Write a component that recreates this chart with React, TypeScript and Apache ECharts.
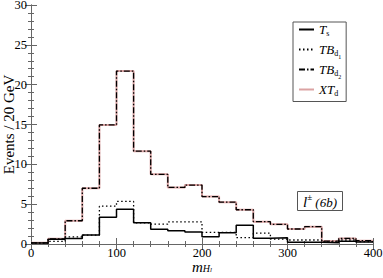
import React, { useEffect, useRef } from 'react';
import * as echarts from 'echarts';

// Bin edges (GeV) for m_{H_l}
const binEdges = [0, 20, 40, 60, 80, 100, 120, 140, 160, 180, 200, 220, 240, 260, 280, 300, 320, 340, 360, 380, 400];

// Events per 20 GeV bin
const tsValues = [0.13, 0.6, 0.7, 1.12, 3.35, 4.37, 2.67, 1.85, 1.65, 1.5, 0.9, 1.4, 2.34, 0.72, 0.78, 0.22, 0.22, 0.15, 0.35, 0.25];
const tbd1Values = [0.1, 0.32, 0.9, 1.12, 4.75, 5.35, 2.67, 2.5, 2.78, 2.78, 1.46, 1.46, 0.8, 1.36, 0.6, 0.5, 0.5, 0.25, 0.5, 0.3];
const tbd2Values = [0.15, 0.65, 2.92, 7.0, 14.95, 21.7, 11.65, 8.74, 7.1, 7.4, 5.95, 5.25, 4.3, 2.8, 2.47, 1.88, 2.17, 0.37, 0.7, 0.42];
const xtdValues = [0.15, 0.65, 2.92, 7.0, 14.95, 21.7, 11.65, 8.74, 7.1, 7.4, 5.95, 5.25, 4.3, 2.8, 2.47, 1.88, 2.17, 0.37, 0.7, 0.42];

const xTicks = [0, 100, 200, 300, 400];
const yTicks = [0, 5, 10, 15, 20, 25, 30];

const SERIF = '"Liberation Serif", "DejaVu Serif", serif';
const FRAME = '#666';

function histPoints(vals: number[]) {
  return binEdges.map((e, i) => [e, vals[Math.min(i, vals.length - 1)]]);
}

const richStyles = {
  i: { fontFamily: SERIF, fontStyle: 'italic', fontWeight: 'normal', fontSize: 13, lineHeight: 20, color: '#000' },
  s: { fontFamily: SERIF, fontWeight: 'normal', fontSize: 8, lineHeight: 8, padding: [0, 0, 2, 0], verticalAlign: 'bottom', color: '#000' },
  ss: { fontFamily: SERIF, fontWeight: 'normal', fontSize: 6, lineHeight: 6, verticalAlign: 'bottom', color: '#000' },
};

export default function App() {
  const ref = useRef<HTMLDivElement>(null);
  useEffect(() => {
    document.body.style.margin = '0';
    if (!ref.current) return;
    const chart = echarts.init(ref.current, null, { renderer: 'svg' });
    const axisCommon = {
      min: 0,
      splitLine: { show: false },
      nameMoveOverlap: false,
      axisLine: { show: true, lineStyle: { color: FRAME, width: 1 } },
      axisTick: { show: true, inside: true, length: 6, lineStyle: { color: FRAME } },
      minorTick: { show: true, splitNumber: 5, length: 3, lineStyle: { color: FRAME } },
    };
    const legendNames: Record<string, string> = {
      'T_s': '{i|T}{s|s}',
      'TB_d1': '{i|TB}{s|d}{ss|1}',
      'TB_d2': '{i|TB}{s|d}{ss|2}',
      'XT_d': '{i|XT}{s|d}',
    };
    chart.setOption({
      animation: false,
      grid: { left: 31, right: 10, top: 5, bottom: 34, containLabel: false, outerBoundsMode: 'none' },
      xAxis: [
        {
          ...axisCommon,
          type: 'value',
          max: xTicks[xTicks.length - 1],
          interval: 100,
          position: 'bottom',
          axisLabel: { fontFamily: SERIF, fontSize: 12.5, color: '#000', margin: 2 },
          name: '{m|m}{h|H}{l|l}',
          nameLocation: 'middle',
          nameGap: 15,
          nameTextStyle: {
            rich: {
              m: { fontFamily: SERIF, fontStyle: 'italic', fontSize: 15, lineHeight: 14, verticalAlign: 'top', color: '#000' },
              h: { fontFamily: SERIF, fontStyle: 'italic', fontSize: 10, lineHeight: 10, verticalAlign: 'bottom', color: '#000' },
              l: { fontFamily: SERIF, fontStyle: 'italic', fontSize: 7, lineHeight: 7, padding: [10, 0, 0, 0], verticalAlign: 'bottom', color: '#000' },
            },
          },
        },
        {
          ...axisCommon,
          type: 'value',
          max: xTicks[xTicks.length - 1],
          interval: 100,
          position: 'top',
          axisLabel: { show: false },
        },
      ],
      yAxis: [
        {
          ...axisCommon,
          type: 'value',
          max: yTicks[yTicks.length - 1],
          interval: 5,
          position: 'left',
          axisLabel: { fontFamily: SERIF, fontSize: 12.5, color: '#000', margin: 4 },
          name: 'Events / 20 GeV',
          nameLocation: 'middle',
          nameGap: 15,
          nameTextStyle: { fontFamily: SERIF, fontSize: 15, color: '#000' },
        },
        {
          ...axisCommon,
          type: 'value',
          max: yTicks[yTicks.length - 1],
          interval: 5,
          position: 'right',
          axisLabel: { show: false },
        },
      ],
      legend: {
        orient: 'vertical',
        left: 293,
        top: 22,
        padding: [1, 5, 2, 5],
        itemWidth: 15,
        itemHeight: 14,
        itemGap: 3.5,
        borderColor: '#555',
        borderWidth: 1,
        itemStyle: { opacity: 0 },
        data: ['T_s', 'TB_d1', 'TB_d2', 'XT_d'],
        formatter: (name: string) => legendNames[name],
        textStyle: { rich: richStyles },
      },
      title: {
        text: '{l|l}{pm|±}{r| (6b)}',
        left: 297,
        top: 191,
        padding: [1, 6, 1, 6],
        borderColor: '#555',
        borderWidth: 1,
        textStyle: {
          fontWeight: 'normal',
          rich: {
            l: { fontFamily: SERIF, fontStyle: 'italic', fontWeight: 'normal', fontSize: 15, lineHeight: 20, color: '#000' },
            pm: { fontFamily: SERIF, fontWeight: 'normal', fontSize: 9, lineHeight: 9, verticalAlign: 'top', color: '#000' },
            r: { fontFamily: SERIF, fontStyle: 'italic', fontWeight: 'normal', fontSize: 13, lineHeight: 20, color: '#000' },
          },
        },
      },
      series: [
        {
          name: 'XT_d',
          type: 'line',
          step: 'end',
          symbol: 'none',
          data: histPoints(xtdValues),
          lineStyle: { color: '#dba3a3', width: 2 },
          itemStyle: { color: '#dba3a3' },
          z: 1,
        },
        {
          name: 'TB_d2',
          type: 'line',
          step: 'end',
          symbol: 'none',
          data: histPoints(tbd2Values),
          lineStyle: { color: '#000', width: 1.3, type: [6, 2, 1.5, 2] },
          itemStyle: { color: '#000' },
          z: 2,
        },
        {
          name: 'TB_d1',
          type: 'line',
          step: 'end',
          symbol: 'none',
          data: histPoints(tbd1Values),
          lineStyle: { color: '#000', width: 1.3, type: [1.5, 2.5] },
          itemStyle: { color: '#000' },
          z: 3,
        },
        {
          name: 'T_s',
          type: 'line',
          step: 'end',
          symbol: 'none',
          data: histPoints(tsValues),
          lineStyle: { color: '#000', width: 1.5 },
          itemStyle: { color: '#000' },
          z: 4,
        },
      ],
    });
    return () => chart.dispose();
  }, []);
  return <div ref={ref} style={{ width: 383, height: 278 }} />;
}
